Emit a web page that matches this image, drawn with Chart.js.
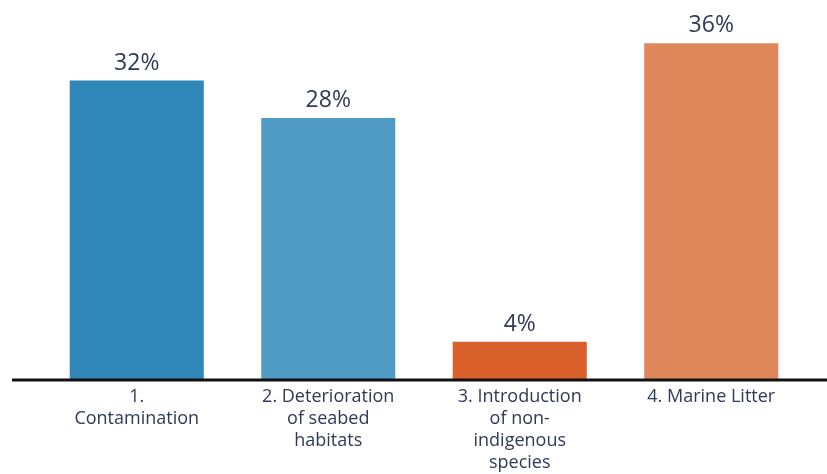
<!DOCTYPE html>
<html>
<head>
<meta charset="utf-8">
<script src="https://cdn.jsdelivr.net/npm/chart.js@4/dist/chart.umd.min.js"></script>
<style>
  html, body { margin: 0; padding: 0; background: #fff; }
  #wrap { width: 827px; height: 474px; }
</style>
</head>
<body>
<div id="wrap"><canvas id="pressures"></canvas></div>
<script>
const categories = [
  ['1.', 'Contamination'],
  ['2. Deterioration', 'of seabed', 'habitats'],
  ['3. Introduction', 'of non-', 'indigenous', 'species'],
  ['4. Marine Litter']
]
const shares = [32, 28, 4, 36]
const barColors = ['#2f87b9', '#509cc7', '#d9602b', '#df875a']

const textColor = '#2f3a58'

// percentage above each bar
const valueLabels = {
  id: 'valueLabels',
  afterDatasetsDraw(chart) {
    const { ctx } = chart
    const meta = chart.getDatasetMeta(0)
    ctx.save()
    ctx.font = '23px "Open Sans", sans-serif'
    ctx.fillStyle = textColor
    ctx.textAlign = 'center'
    ctx.textBaseline = 'bottom'
    meta.data.forEach((bar, i) => {
      ctx.fillText(shares[i] + '%', bar.x, bar.y - 6)
    })
    ctx.restore()
  }
}

// thick baseline running across the full width
const baseline = {
  id: 'baseline',
  afterDatasetsDraw(chart) {
    const { ctx } = chart
    const y = chart.scales.y.getPixelForValue(0)
    ctx.save()
    ctx.strokeStyle = '#111'
    ctx.lineWidth = 3
    ctx.beginPath()
    ctx.moveTo(12, y + 1)
    ctx.lineTo(chart.width, y + 1)
    ctx.stroke()
    ctx.restore()
  }
}

new Chart(document.getElementById('pressures'), {
  type: 'bar',
  data: {
    labels: categories,
    datasets: [{
      data: shares,
      backgroundColor: barColors,
      categoryPercentage: 0.7,
      barPercentage: 1
    }]
  },
  options: {
    responsive: true,
    maintainAspectRatio: false,
    animation: false,
    layout: { padding: { left: 41, right: 20, top: 6, bottom: 0 } },
    plugins: {
      legend: { display: false },
      tooltip: { enabled: false }
    },
    scales: {
      x: {
        grid: { display: false, drawTicks: false },
        border: { display: false },
        ticks: {
          color: textColor,
          font: { family: '"Open Sans", sans-serif', size: 18, lineHeight: 1.22 },
          padding: 7,
          maxRotation: 0,
          autoSkip: false
        },
        afterFit(scale) { scale.height = 95 }
      },
      y: {
        display: false,
        min: 0,
        max: 40
      }
    }
  },
  plugins: [valueLabels, baseline]
})
</script>
</body>
</html>
